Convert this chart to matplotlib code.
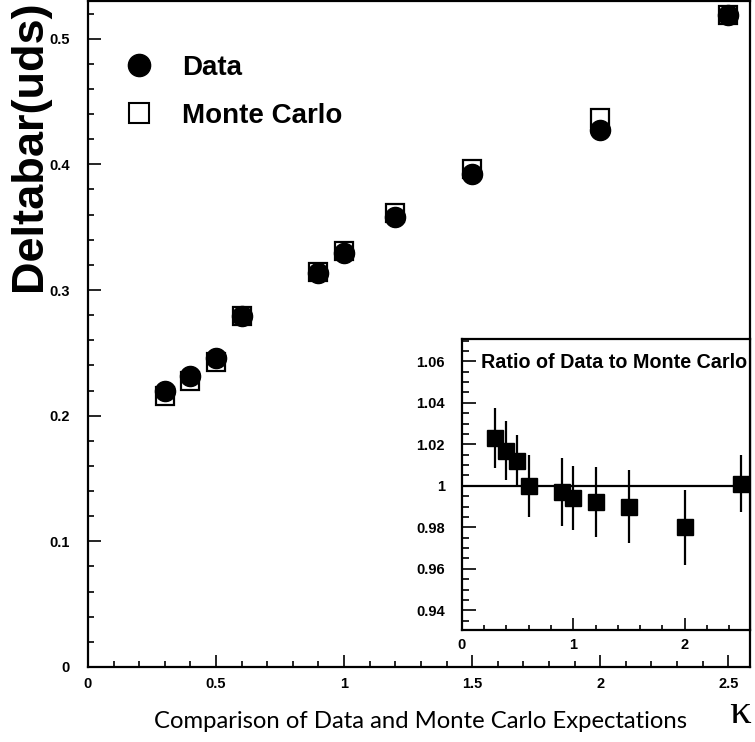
import matplotlib
matplotlib.use("Agg")
import matplotlib.pyplot as plt
from matplotlib.ticker import MultipleLocator, FixedLocator, FixedFormatter
from matplotlib.lines import Line2D

plt.rcParams["mathtext.fontset"] = "custom"
plt.rcParams["mathtext.rm"] = "Liberation Serif"

# ---------------- data ----------------
kappa = [0.3, 0.4, 0.5, 0.6, 0.9, 1.0, 1.2, 1.5, 2.0, 2.5]
data_vals = [0.2200, 0.2317, 0.2458, 0.2790, 0.3138, 0.3294, 0.3579, 0.3924, 0.4275, 0.5188]
mc_vals = [0.2153, 0.2276, 0.2428, 0.2790, 0.3145, 0.3314, 0.3609, 0.3961, 0.4366, 0.5190]
ratio = [1.023, 1.017, 1.012, 1.000, 0.997, 0.994, 0.992, 0.990, 0.980, 1.001]
ratio_err = [0.0145, 0.014, 0.0126, 0.015, 0.0165, 0.0155, 0.0169, 0.0178, 0.018, 0.0137]

main_xticks = [0, 0.5, 1, 1.5, 2, 2.5]
main_xticklabels = ["0", "0.5", "1", "1.5", "2", "2.5"]
main_yticks = [0, 0.1, 0.2, 0.3, 0.4, 0.5]
main_yticklabels = ["0", "0.1", "0.2", "0.3", "0.4", "0.5"]
inset_xticks = [0, 1, 2]
inset_xticklabels = ["0", "1", "2"]
inset_yticks = [0.94, 0.96, 0.98, 1.0, 1.02, 1.04, 1.06]
inset_yticklabels = ["0.94", "0.96", "0.98", "1", "1.02", "1.04", "1.06"]

W, H = 755, 742
fig = plt.figure(figsize=(W / 100, H / 100), dpi=100)

BOLD = dict(family=["Liberation Sans", "DejaVu Sans"], weight="bold")

# ---------------- main axes ----------------
ax = fig.add_axes([88 / W, 75 / H, 662 / W, 666 / H])
ax.set_xlim(0, 2.585)
ax.set_ylim(0, 0.530)
for s in ax.spines.values():
    s.set_linewidth(1.6)

ax.plot(kappa, mc_vals, linestyle="none", marker="s", markersize=13.5,
        markerfacecolor="white", markeredgecolor="black", markeredgewidth=1.6, zorder=3)
ax.plot(kappa, data_vals, linestyle="none", marker="o", markersize=14.5,
        markerfacecolor="black", markeredgecolor="black", zorder=4)

ax.xaxis.set_major_locator(FixedLocator(main_xticks))
ax.xaxis.set_major_formatter(FixedFormatter(main_xticklabels))
ax.xaxis.set_minor_locator(MultipleLocator(0.1))
ax.yaxis.set_major_locator(FixedLocator(main_yticks))
ax.yaxis.set_major_formatter(FixedFormatter(main_yticklabels))
ax.yaxis.set_minor_locator(MultipleLocator(0.02))
ax.tick_params(which="both", direction="in", top=False, right=False, width=1.2)
ax.tick_params(which="major", length=9)
ax.tick_params(which="minor", length=4.5)
ax.tick_params(axis="y", which="major", pad=13)
ax.tick_params(axis="x", which="major", pad=7)
for lab in ax.get_xticklabels() + ax.get_yticklabels():
    lab.set_fontproperties(dict(BOLD, size=10.5))

# legend
leg_handles = [
    Line2D([], [], linestyle="none", marker="o", markersize=16,
           markerfacecolor="black", markeredgecolor="black"),
    Line2D([], [], linestyle="none", marker="s", markersize=14.5,
           markerfacecolor="white", markeredgecolor="black", markeredgewidth=1.5),
]
leg = ax.legend(leg_handles, ["Data", "Monte Carlo"], loc="upper left",
                bbox_to_anchor=(0.0134, 0.957), frameon=False,
                prop=dict(BOLD, size=20), handletextpad=0.98, labelspacing=0.80,
                handlelength=1.2)

# y label
fig.text(30 / W, 1 - 146 / H, "Deltabar(uds)", rotation=90, ha="center", va="center",
         family=["Liberation Sans", "DejaVu Sans"], weight="bold", size=32.5)

# x label
fig.text(421 / W, 1 - 722 / H, "Comparison of Data and Monte Carlo Expectations",
         ha="center", va="center", family=["Lato", "DejaVu Sans"], size=17.2)
fig.text(741 / W, 1 - 711 / H, r"$\mathrm{κ}$", ha="center", va="center", size=31)

# ---------------- inset ----------------
ins = fig.add_axes([461.7 / W, (H - 630) / H, (750 - 461.7) / W, (630 - 339.3) / H])
ins.set_facecolor("white")
ins.set_xlim(0, 2.585)
ins.set_ylim(0.9305, 1.0706)
for s in ins.spines.values():
    s.set_linewidth(1.6)
ins.axhline(1.0, color="black", linewidth=1.6, zorder=2)
ins.errorbar(kappa, ratio, yerr=ratio_err, fmt="s", color="black", markersize=11.5,
             elinewidth=1.6, capsize=0, zorder=3)

ins.xaxis.set_major_locator(FixedLocator(inset_xticks))
ins.xaxis.set_major_formatter(FixedFormatter(inset_xticklabels))
ins.xaxis.set_minor_locator(MultipleLocator(0.2))
ins.yaxis.set_major_locator(FixedLocator(inset_yticks))
ins.yaxis.set_major_formatter(FixedFormatter(inset_yticklabels))
ins.yaxis.set_minor_locator(MultipleLocator(0.005))
ins.tick_params(which="both", direction="in", top=False, right=False, width=1.2)
ins.tick_params(axis="y", which="major", length=10, pad=12)
ins.tick_params(axis="y", which="minor", length=5)
ins.tick_params(axis="x", which="major", length=9, pad=6)
ins.tick_params(axis="x", which="minor", length=3.5)
for lab in ins.get_xticklabels() + ins.get_yticklabels():
    lab.set_fontproperties(dict(BOLD, size=10.5))

ins.text(0.99, 0.92, "Ratio of Data to Monte Carlo", transform=ins.transAxes,
         ha="right", va="center", family=["Liberation Sans", "DejaVu Sans"],
         weight="bold", size=14.2)

fig.savefig("out.png", dpi=100)
